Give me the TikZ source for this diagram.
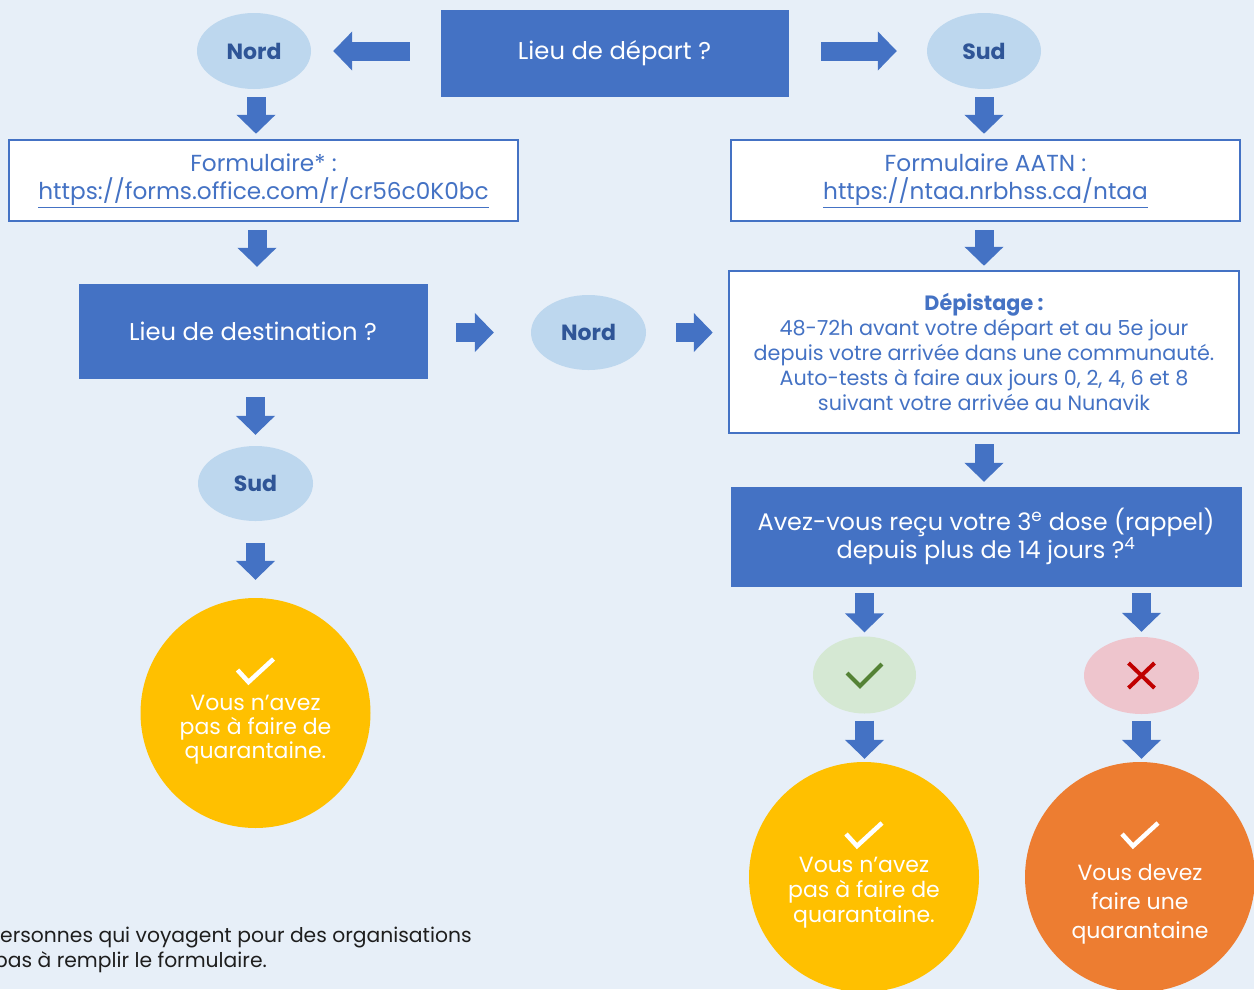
\documentclass[tikz,border=0pt]{standalone}
\usepackage{fontspec}
\setmainfont{Poppins}
\usetikzlibrary{arrows.meta,shapes.geometric}
\definecolor{bg}{HTML}{E7EFF8}
\definecolor{mblue}{HTML}{4472C4}
\definecolor{lblue}{HTML}{BDD7EE}
\definecolor{nordc}{HTML}{2F5597}
\definecolor{lgreen}{HTML}{D5E8D3}
\definecolor{dgreen}{HTML}{548235}
\definecolor{lpink}{HTML}{EEC5CD}
\definecolor{dred}{HTML}{C00000}
\definecolor{myellow}{HTML}{FFC000}
\definecolor{morange}{HTML}{ED7D31}
\definecolor{ftext}{HTML}{1E1E1E}
\tikzset{
  bluebox/.style={rectangle, fill=mblue, draw=mblue, text=white, inner sep=0pt, align=center, font=\fontsize{24.3}{28}\selectfont},
  whitebox/.style={rectangle, fill=white, draw=mblue, line width=2.5pt, text=mblue, inner sep=0pt, align=center, font=\fontsize{23.2}{28}\selectfont},
  oval/.style={ellipse, fill=lblue, inner sep=0pt, text=nordc, font=\bfseries\fontsize{22}{26}\selectfont},
  barrow/.style={draw=mblue, line width=19pt, -{Triangle[width=38pt,length=19pt]}},
  circ/.style={circle, inner sep=0pt, minimum size=230pt},
  circtext/.style={text=white, align=center, inner sep=0pt},
  checkw/.style={draw=white, line width=4.5pt},
}
\newcommand\wcheck[1]{\draw[checkw] ([shift={(-18,-43)}]#1) -- ([shift={(-7,-31)}]#1) -- ([shift={(18,-54)}]#1);}
\begin{document}
\begin{tikzpicture}[x=1pt,y=-1pt]
\useasboundingbox (0,0) rectangle (1254,989);
\clip (0,0) rectangle (1254,989);
\fill[bg] (0,0) rectangle (1254,989);

% nodes
\node[bluebox, minimum width=347pt, minimum height=86pt] (dep) at (614.5,53) {Lieu de départ ?};
\node[oval, minimum width=114pt, minimum height=76pt] (nordA) at (254,51) {Nord};
\node[oval, minimum width=114pt, minimum height=76pt] (sudA) at (984,51) {Sud};
\node[whitebox, minimum width=509pt, minimum height=81pt] (formL) at (263.5,180.5) {Formulaire* :\\\underline{https://forms.office.com/r/cr56c0K0bc}};
\node[whitebox, minimum width=509pt, minimum height=81pt] (formR) at (985.5,180.5) {Formulaire AATN :\\\underline{https://ntaa.nrbhss.ca/ntaa}};
\node[bluebox, minimum width=348pt, minimum height=94pt] (dest) at (253,331) {Lieu de destination ?};
\node[oval, minimum width=115pt, minimum height=75pt] (nordB) at (588.5,332.5) {Nord};
\node[whitebox, minimum width=510pt, minimum height=162pt, font=\fontsize{20.7}{25}\selectfont] (depi) at (984,352) {\textbf{Dépistage :}\\48-72h avant votre départ et au 5e jour\\depuis votre arrivée dans une communauté.\\Auto-tests à faire aux jours 0, 2, 4, 6 et 8\\suivant votre arrivée au Nunavik};
\node[bluebox, minimum width=510pt, minimum height=99pt, font=\fontsize{24}{28}\selectfont] (q) at (986,536.5) {Avez-vous reçu votre 3\textsuperscript{e} dose (rappel)\\depuis plus de 14 jours ?\textsuperscript{4}};
\node[oval, minimum width=115pt, minimum height=75pt] (sudB) at (255.5,483.5) {Sud};
\node[ellipse, fill=lgreen, inner sep=0pt, minimum width=103pt, minimum height=77pt] (yes) at (864.5,675) {};
\node[ellipse, fill=lpink, inner sep=0pt, minimum width=115pt, minimum height=77pt] (no) at (1141.5,675.5) {};
\node[circ, fill=myellow] (resL) at (255.5,713) {};
\node[circ, fill=myellow] (resR) at (864,877) {};
\node[circ, fill=morange] (resO) at (1140,877) {};
\node[circtext, font=\fontsize{22}{24}\selectfont] (resLt) at ([yshift=-17pt]resL.center) {Vous n’avez\\pas à faire de\\quarantaine.};
\node[circtext, font=\fontsize{22}{25}\selectfont] (resRt) at ([yshift=-16pt]resR.center) {Vous n’avez\\pas à faire de\\quarantaine.};
\node[circtext, font=\fontsize{22}{29}\selectfont] (resOt) at ([yshift=-27pt]resO.center) {Vous devez\\faire une\\quarantaine};

% marks
\wcheck{resL.center}
\wcheck{resR.center}
\wcheck{resO.center}
\draw[draw=dgreen, line width=4pt] ([shift={(-17.5,-2)}]yes.center) -- ([shift={(-4.5,11)}]yes.center) -- ([shift={(17.5,-11)}]yes.center);
\draw[draw=dred, line width=4pt] ([shift={(-13,-12.5)}]no.center) -- ([shift={(13,12.5)}]no.center);
\draw[draw=dred, line width=4pt] ([shift={(-13,12.5)}]no.center) -- ([shift={(13,-12.5)}]no.center);

% arrows
\draw[barrow, shorten <=31pt, shorten >=22pt] (dep.west |- nordA.east) -- (nordA.east);
\draw[barrow, shorten <=33pt, shorten >=30pt] (dep.east |- sudA.west) -- (sudA.west);
\draw[barrow, shorten <=8pt, shorten >=5pt] ([xshift=2pt]nordA.south) -- ([xshift=2pt]nordA.south |- formL.north);
\draw[barrow, shorten <=8pt, shorten >=5pt] (sudA.south) -- (sudA.south |- formR.north);
\draw[barrow, shorten <=8pt, shorten >=17pt] ([xshift=4pt]dest.north |- formL.south) -- ([xshift=4pt]dest.north);
\draw[barrow, shorten <=8pt, shorten >=4pt] (depi.north |- formR.south) -- (depi.north);
\draw[barrow, shorten <=29pt, shorten >=37pt] (dest.east |- nordB.west) -- (nordB.west);
\draw[barrow, shorten <=30pt, shorten >=15pt] (nordB.east) -- (nordB.east -| depi.west);
\draw[barrow, shorten <=19pt, shorten >=11pt] (sudB.north |- dest.south) -- (sudB.north);
\draw[barrow, shorten <=22pt, shorten >=18pt] (sudB.south) -- (resL.north);
\draw[barrow, shorten <=10pt, shorten >=5pt] (depi.south) -- (depi.south |- q.north);
\draw[barrow, shorten <=7pt, shorten >=4pt] (yes.north |- q.south) -- (yes.north);
\draw[barrow, shorten <=7pt, shorten >=5pt] (no.north |- q.south) -- (no.north);
\draw[barrow, shorten <=7pt, shorten >=3pt] (yes.south) -- (yes.south |- resR.north);
\draw[barrow, shorten <=7pt, shorten >=3pt] (no.south) -- (no.south |- resO.north);

% footer
\node[anchor=base west, inner sep=0pt, text=ftext, font=\fontsize{20.3}{25}\selectfont] (f1) at (0,942) {ersonnes qui voyagent pour des organisations};
\node[anchor=base west, inner sep=0pt, text=ftext, font=\fontsize{20.3}{25}\selectfont] (f2) at (-6,967) {pas à remplir le formulaire.};
\end{tikzpicture}
\end{document}
